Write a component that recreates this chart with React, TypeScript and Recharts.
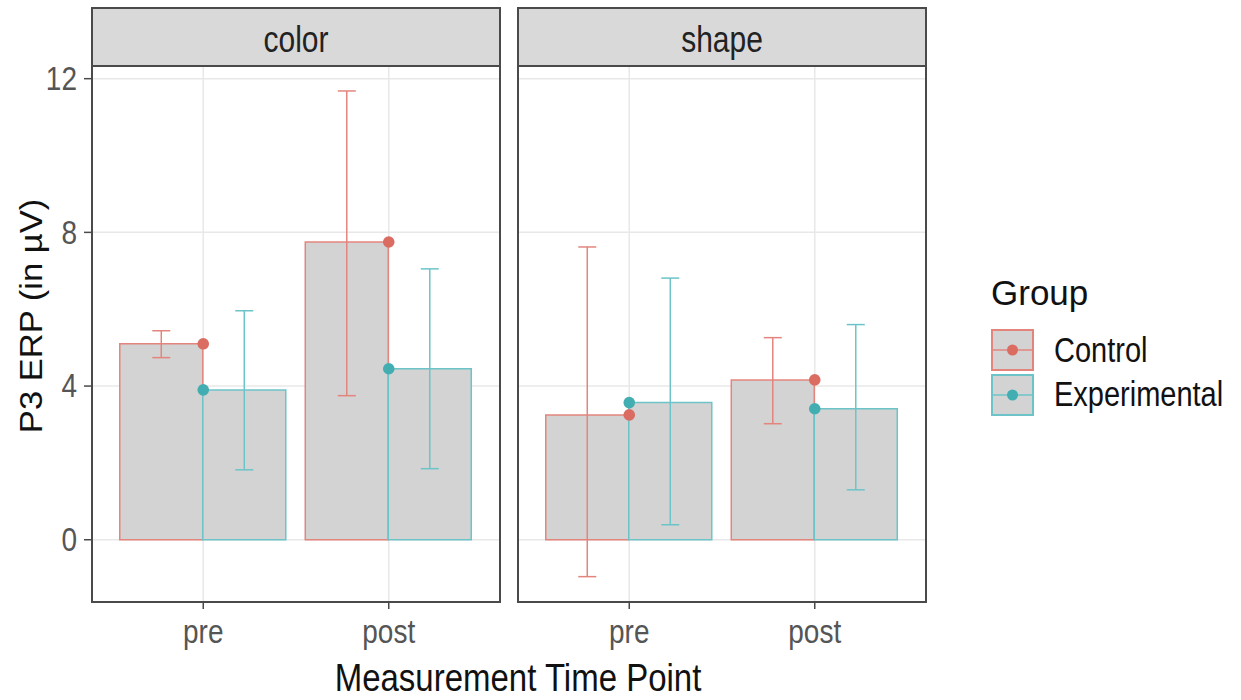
import { ComposedChart, Bar, Line, ErrorBar, XAxis, YAxis, CartesianGrid } from "recharts"

const categories = ["pre", "post"]
const facets = ["color", "shape"]
const groups = ["Control", "Experimental"]
const yTicks = [0, 4, 8, 12]
const minorTicks = [2, 6, 10]

const colorControl = [5.1, 7.75]
const colorControlLow = [4.74, 3.75]
const colorControlHigh = [5.44, 11.68]
const colorExperimental = [3.9, 4.45]
const colorExperimentalLow = [1.82, 1.85]
const colorExperimentalHigh = [5.96, 7.05]

const shapeControl = [3.25, 4.16]
const shapeControlLow = [-0.96, 3.02]
const shapeControlHigh = [7.62, 5.26]
const shapeExperimental = [3.57, 3.41]
const shapeExperimentalLow = [0.39, 1.3]
const shapeExperimentalHigh = [6.81, 5.6]

const RED = "#E3857D"
const RED_DOT = "#DA6C62"
const TEAL = "#6CC4C8"
const TEAL_DOT = "#43AEB2"
const FONT = "'Liberation Sans', Arial, sans-serif"
const BORDER = "#4a4a4a"

const buildRows = (
  c: number[], cLo: number[], cHi: number[],
  e: number[], eLo: number[], eHi: number[]
) =>
  categories.map((cat, i) => ({
    cat,
    control: c[i],
    controlErr: [c[i] - cLo[i], cHi[i] - c[i]],
    experimental: e[i],
    experimentalErr: [e[i] - eLo[i], eHi[i] - e[i]],
  }))

const facetRows = [
  buildRows(colorControl, colorControlLow, colorControlHigh, colorExperimental, colorExperimentalLow, colorExperimentalHigh),
  buildRows(shapeControl, shapeControlLow, shapeControlHigh, shapeExperimental, shapeExperimentalLow, shapeExperimentalHigh),
]

const YTick = ({ x, y, payload }: any) => (
  <text
    transform={`translate(${x},${y}) scale(1,1.2)`}
    textAnchor="end"
    dominantBaseline="central"
    fontSize={28}
    fontFamily={FONT}
    fill="#555"
  >
    {payload.value}
  </text>
)

const XTick = ({ x, y, payload }: any) => (
  <text
    transform={`translate(${x},${y + 34}) scale(1,1.2)`}
    textAnchor="middle"
    fontSize={28}
    fontFamily={FONT}
    fill="#555"
  >
    {payload.value}
  </text>
)

const minorLines = ({ yAxis }: any) =>
  yAxis && typeof yAxis.scale === "function" ? minorTicks.map((v) => yAxis.scale(v)) : []

const Panel = ({ rows, showY }: { rows: any[]; showY: boolean }) => (
  <ComposedChart
    width={showY ? 510 : 428}
    height={700}
    data={rows}
    margin={{ top: 66, right: 10, bottom: 48, left: showY ? 12 : 10 }}
    barCategoryGap="5%"
    barGap={0}
  >
    <CartesianGrid vertical={false} stroke="#f1f1f1" strokeWidth={1} horizontalCoordinatesGenerator={minorLines} />
    <CartesianGrid stroke="#e8e8e8" strokeWidth={1.5} />
    <XAxis
      dataKey="cat"
      type="category"
      padding={{ left: 18.5, right: 18.5 }}
      axisLine={false}
      tickLine={{ stroke: BORDER, strokeWidth: 1.5 }}
      tickSize={7}
      tickMargin={0}
      height={50}
      tick={<XTick />}
    />
    <YAxis
      type="number"
      domain={[-1.62, 12.33]}
      allowDataOverflow
      ticks={yTicks}
      hide={!showY}
      width={80}
      axisLine={false}
      tickLine={{ stroke: BORDER, strokeWidth: 1.5 }}
      tickSize={8}
      tickMargin={7}
      tick={<YTick />}
    />
    <Bar dataKey="control" fill="#d3d3d3" stroke={RED} strokeWidth={1.5} isAnimationActive={false}>
      <ErrorBar dataKey="controlErr" direction="y" width={9} stroke={RED} strokeWidth={1.5} />
    </Bar>
    <Bar dataKey="experimental" fill="#d3d3d3" stroke={TEAL} strokeWidth={1.5} isAnimationActive={false}>
      <ErrorBar dataKey="experimentalErr" direction="y" width={9} stroke={TEAL} strokeWidth={1.5} />
    </Bar>
    <Line
      dataKey="control"
      stroke="none"
      dot={{ r: 5.8, fill: RED_DOT, stroke: RED_DOT, strokeWidth: 0 }}
      activeDot={false}
      isAnimationActive={false}
    />
    <Line
      dataKey="experimental"
      stroke="none"
      dot={{ r: 5.8, fill: TEAL_DOT, stroke: TEAL_DOT, strokeWidth: 0 }}
      activeDot={false}
      isAnimationActive={false}
    />
  </ComposedChart>
)

const panelX = [92, 518]
const keyColors = [
  [RED, RED_DOT],
  [TEAL, TEAL_DOT],
]

export default function App() {
  return (
    <div style={{ position: "absolute", left: 0, top: 0, width: 1241, height: 700, background: "#fff" }}>
      <div style={{ position: "absolute", left: 0, top: 0 }}>
        <Panel rows={facetRows[0]} showY />
      </div>
      <div style={{ position: "absolute", left: 508, top: 0 }}>
        <Panel rows={facetRows[1]} showY={false} />
      </div>
      <svg
        width={1241}
        height={700}
        style={{ position: "absolute", left: 0, top: 0, pointerEvents: "none" }}
        fontFamily={FONT}
      >
        {facets.map((f, i) => (
          <g key={f}>
            <rect x={panelX[i]} y={8} width={408} height={58} fill="#d9d9d9" stroke={BORDER} strokeWidth={2} />
            <text
              transform={`translate(${panelX[i] + 204},52) scale(1,1.2)`}
              textAnchor="middle"
              fontSize={30}
              fill="#222"
            >
              {f}
            </text>
            <rect x={panelX[i]} y={66} width={408} height={536} fill="none" stroke={BORDER} strokeWidth={2} />
          </g>
        ))}
        <text
          transform="translate(31,316) rotate(-90) scale(1.08,1)"
          textAnchor="middle"
          dominantBaseline="central"
          fontSize={32}
          fill="#111"
        >
          P3 ERP (in µV)
        </text>
        <text transform="translate(518,691) scale(1,1.18)" textAnchor="middle" fontSize={33} fill="#111">
          Measurement Time Point
        </text>
        <text x={991} y={305} fontSize={35} fill="#111">
          Group
        </text>
        {groups.map((g, i) => (
          <g key={g}>
            <rect x={992} y={330 + i * 45} width={41} height={40} fill="#d3d3d3" stroke={keyColors[i][0]} strokeWidth={2} />
            <line x1={992} x2={1033} y1={350 + i * 45} y2={350 + i * 45} stroke={keyColors[i][0]} strokeWidth={1.5} />
            <circle cx={1012.5} cy={350 + i * 45} r={5.5} fill={keyColors[i][1]} />
            <text transform={`translate(1054,${362 + i * 44}) scale(1,1.2)`} fontSize={29} fill="#111">
              {g}
            </text>
          </g>
        ))}
      </svg>
    </div>
  )
}
